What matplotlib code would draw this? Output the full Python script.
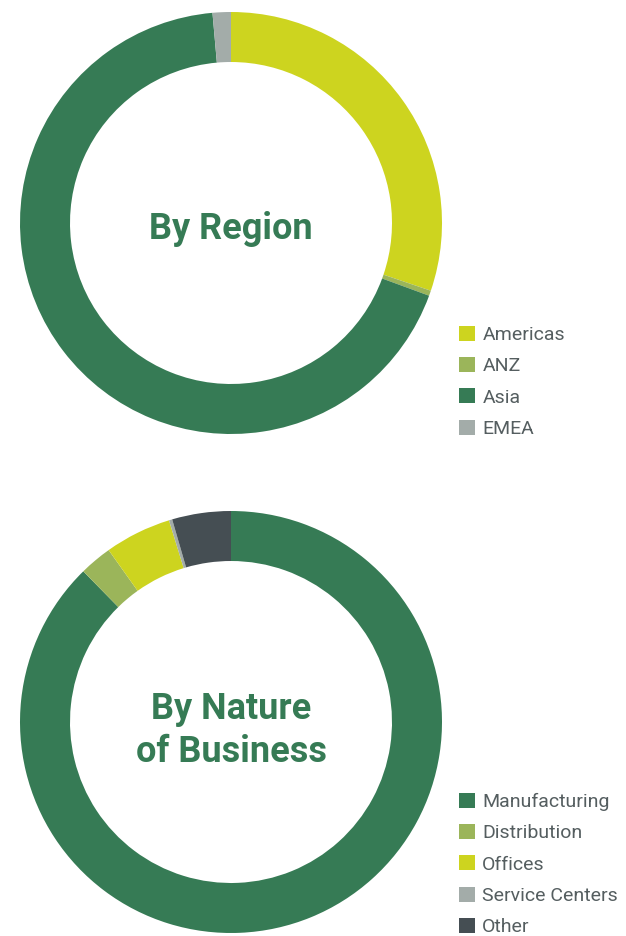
import matplotlib
matplotlib.use("Agg")
import matplotlib.pyplot as plt

# data (percent)
region_labels = ["Americas", "ANZ", "Asia", "EMEA"]
region_values = [30.2, 0.4, 68.0, 1.4]
region_colors = ["#CDD41F", "#9BB55A", "#367B55", "#A3ACA9"]

nature_labels = ["Manufacturing", "Distribution", "Offices", "Service Centers", "Other"]
nature_values = [87.7, 2.5, 5.1, 0.25, 4.5]
nature_colors = ["#367B55", "#9BB55A", "#CDD41F", "#A3ACA9", "#454E53"]

title_color = "#367B55"
text_color = "#555E60"
fonts = ["Roboto", "DejaVu Sans"]

fig = plt.figure(figsize=(6.26, 9.36), dpi=100)
fig.patch.set_facecolor("white")


def donut(rect, values, colors, labels, title, ty, leg_xy):
    ax = fig.add_axes(rect)
    wedges, _ = ax.pie(values, colors=colors, startangle=90, counterclock=False,
                       radius=1.0, wedgeprops=dict(width=0.237, linewidth=0))
    ax.set_xlim(-1, 1)
    ax.set_ylim(-1, 1)
    ax.set_aspect("equal")
    ax.axis("off")
    ax.text(0, ty, title, ha="center", va="center", fontsize=26, fontweight="bold",
            color=title_color, family=fonts, linespacing=1.25)
    leg = fig.legend(wedges, labels, loc="upper left", bbox_to_anchor=leg_xy,
                     frameon=False, handlelength=0.8, handleheight=0.8,
                     handletextpad=0.4, labelspacing=0.67, borderaxespad=0,
                     borderpad=0, prop=dict(family=fonts, size=14))
    for t in leg.get_texts():
        t.set_color(text_color)
    return ax


donut([20 / 626, 1 - 434 / 936, 422 / 626, 422 / 936], region_values, region_colors,
      region_labels, "By Region", -0.03, (459 / 626, 1 - 326 / 936))
donut([20 / 626, 1 - 933 / 936, 422 / 626, 422 / 936], nature_values, nature_colors,
      nature_labels, "By Nature\nof Business", -0.04, (459 / 626, 1 - 793 / 936))

fig.savefig("out.png", dpi=100, facecolor="white")
